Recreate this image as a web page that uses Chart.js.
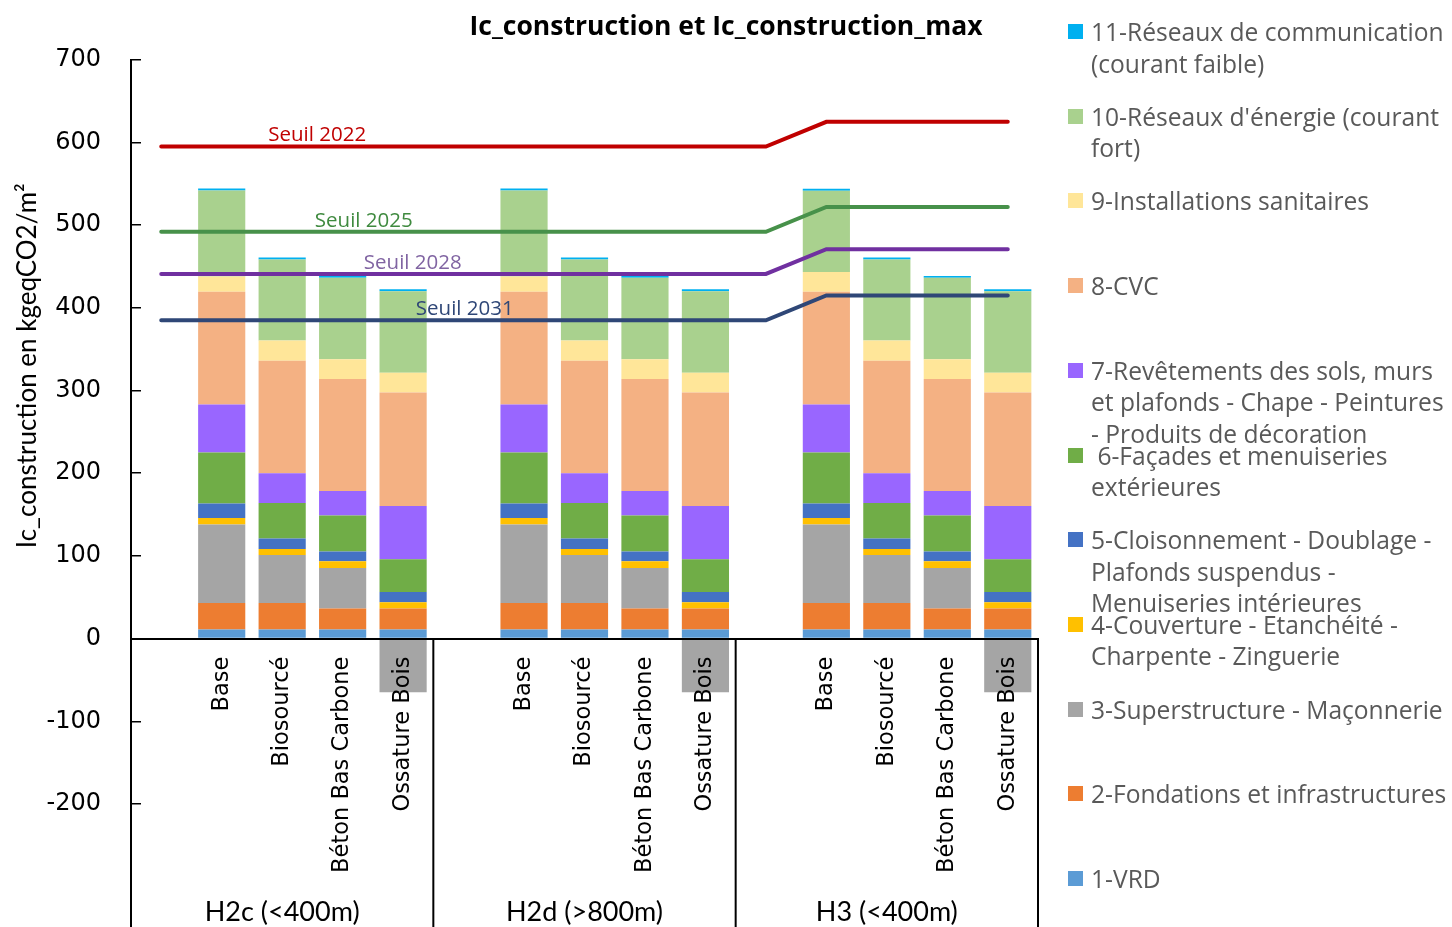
<!DOCTYPE html>
<html lang="fr">
<head>
<meta charset="UTF-8">
<title>Ic_construction et Ic_construction_max</title>
<script src="https://cdn.jsdelivr.net/npm/chart.js"></script>
<style>
    body { margin: 0; background: #fff; overflow: hidden; }
    #zone { position: relative; width: 1452px; height: 927px; }
    #legende { position: absolute; left: 1068px; top: 0; font-family: "Open Sans", sans-serif; font-size: 24.6px; color: #595959; }
    .item { position: absolute; left: 0; width: 384px; line-height: 31.5px; }
    .carre { position: absolute; left: 0; top: 8px; width: 15px; height: 15px; }
    .texte { position: absolute; left: 23px; white-space: pre; }
</style>
</head>
<body>
<div id="zone">
    <canvas id="graphique" width="1452" height="927"></canvas>
    <div id="legende"></div>
</div>
<script>
    // catégories
    const groupes = ['H2c (<400m)', 'H2d (>800m)', 'H3 (<400m)'];
    const variantes = ['Base', 'Biosourcé', 'Béton Bas Carbone', 'Ossature Bois'];

    // lots (libellés de la légende, coupés comme dans l'original)
    const lots = [
        ['1-VRD'],
        ['2-Fondations et infrastructures'],
        ['3-Superstructure - Maçonnerie'],
        ['4-Couverture - Etanchéité -', 'Charpente - Zinguerie'],
        ['5-Cloisonnement - Doublage -', 'Plafonds suspendus -', 'Menuiseries intérieures'],
        [' 6-Façades et menuiseries', 'extérieures'],
        ['7-Revêtements des sols, murs', 'et plafonds - Chape - Peintures', '- Produits de décoration'],
        ['8-CVC'],
        ['9-Installations sanitaires'],
        ["10-Réseaux d'énergie (courant", 'fort)'],
        ['11-Réseaux de communication', '(courant faible)']
    ];
    const couleurs = ['#5B9BD5', '#ED7D31', '#A5A5A5', '#FFC000', '#4472C4', '#70AD47',
                      '#9966FF', '#F4B183', '#FFE699', '#A9D18E', '#00B0F0'];

    // valeurs kgeqCO2/m² : Base, Biosourcé, Béton Bas Carbone, Ossature Bois pour chaque zone
    const lot1  = [11, 11, 11, 11,         11, 11, 11, 11,         11, 11, 11, 11];
    const lot2  = [32, 32, 25.5, 25.5,     32, 32, 25.5, 25.5,     32, 32, 25.5, 25.5];
    const lot3  = [95, 58, 49, -65,        95, 58, 49, -65,        95, 58, 49, -65];
    const lot4  = [8, 7.5, 8, 7.5,         8, 7.5, 8, 7.5,         8, 7.5, 8, 7.5];
    const lot5  = [17.5, 12.5, 12, 12.5,   17.5, 12.5, 12, 12.5,   17.5, 12.5, 12, 12.5];
    const lot6  = [61.5, 43, 43.5, 39.5,   61.5, 43, 43.5, 39.5,   61.5, 43, 43.5, 39.5];
    const lot7  = [58, 36, 29.5, 64.5,     58, 36, 29.5, 64.5,     58, 36, 29.5, 64.5];
    const lot8  = [136.5, 136, 135.5, 137, 136.5, 136, 135.5, 137, 136.5, 136, 135.5, 137];
    const lot9  = [18.5, 24.5, 24, 24,     18.5, 24.5, 24, 24,     24, 24.5, 24, 24];
    const lot10 = [104, 98, 98.5, 98.5,    104, 98, 98.5, 98.5,    98, 98, 98.5, 98.5];
    const lot11 = [2.5, 2.5, 2, 2.5,       2.5, 2.5, 2, 2.5,       2.5, 2.5, 2, 2.5];
    const valeursLots = [lot1, lot2, lot3, lot4, lot5, lot6, lot7, lot8, lot9, lot10, lot11];

    // seuils, un point par emplacement de l'axe (vide + 4 variantes par zone)
    const seuil2022 = [595, 595, 595, 595, 595, 595, 595, 595, 595, 595, 595, 625, 625, 625, 625];
    const seuil2025 = [492, 492, 492, 492, 492, 492, 492, 492, 492, 492, 492, 522, 522, 522, 522];
    const seuil2028 = [441, 441, 441, 441, 441, 441, 441, 441, 441, 441, 441, 471, 471, 471, 471];
    const seuil2031 = [385, 385, 385, 385, 385, 385, 385, 385, 385, 385, 385, 415, 415, 415, 415];

    // axe : un emplacement vide avant chaque zone
    const emplacements = [];
    groupes.forEach(() => {
        emplacements.push('');
        variantes.forEach(v => emplacements.push(v));
    });

    function versEmplacements(valeurs) {
        const res = [];
        groupes.forEach((g, k) => {
            res.push(null);
            for (let j = 0; j < variantes.length; j++) res.push(valeurs[k * variantes.length + j]);
        });
        return res;
    }

    const seuils = [
        { label: 'Seuil 2022', data: seuil2022, couleur: '#C00000', texte: '#C00000', pos: 2.58 },
        { label: 'Seuil 2025', data: seuil2025, couleur: '#47914A', texte: '#3F8A3F', pos: 3.35 },
        { label: 'Seuil 2028', data: seuil2028, couleur: '#7030A0', texte: '#8064A2', pos: 4.16 },
        { label: 'Seuil 2031', data: seuil2031, couleur: '#2F4777', texte: '#2F4777', pos: 5.02 }
    ];

    const datasets = [];
    seuils.forEach((s, i) => {
        datasets.push({
            type: 'line',
            label: s.label,
            data: s.data,
            borderColor: s.couleur,
            borderWidth: 4,
            borderCapStyle: 'round',
            pointRadius: 0,
            fill: false,
            tension: 0,
            stack: 'seuil' + i,
            yAxisID: 'y',
            order: 0
        });
    });
    valeursLots.forEach((v, i) => {
        datasets.push({
            type: 'bar',
            label: lots[i].join(' '),
            data: versEmplacements(v),
            backgroundColor: couleurs[i],
            barPercentage: 0.78,
            categoryPercentage: 1,
            stack: 'lots',
            yAxisID: 'y',
            order: 1
        });
    });

    // textes hors données : titre d'axe, zones, séparateurs, étiquettes des seuils
    const decor = {
        id: 'decor',
        afterDatasetsDraw(chart) {
            const ctx = chart.ctx;
            const x = chart.scales.x;
            const y = chart.scales.y;
            ctx.save();
            ctx.textAlign = 'center';
            ctx.textBaseline = 'middle';
            ctx.font = '20.5px "Open Sans"';
            seuils.forEach(s => {
                ctx.fillStyle = s.texte;
                ctx.fillText(s.label, x.getPixelForValue(s.pos), y.getPixelForValue(s.data[0]) - 11);
            });
            ctx.restore();
        },
        afterDraw(chart) {
            const ctx = chart.ctx;
            const x = chart.scales.x;
            const y = chart.scales.y;
            const y0 = y.getPixelForValue(0);
            const pas = variantes.length + 1;
            ctx.save();
            ctx.strokeStyle = '#000';
            ctx.lineWidth = 2;
            for (let k = 0; k <= groupes.length; k++) {
                const px = x.getPixelForValue(k * pas - 0.5);
                ctx.beginPath();
                ctx.moveTo(px, y0);
                ctx.lineTo(px, chart.height);
                ctx.stroke();
            }
            ctx.fillStyle = '#000';
            ctx.textAlign = 'center';
            ctx.textBaseline = 'middle';
            ctx.font = '27px Lato';
            groupes.forEach((g, k) => {
                ctx.fillText(g, x.getPixelForValue(k * pas + 2), chart.height - 15);
            });
            ctx.translate(28, y.getPixelForValue(330));
            ctx.rotate(-Math.PI / 2);
            ctx.font = '26px Lato';
            ctx.fillText('Ic_construction en kgeqCO2/m²', 0, 0);
            ctx.restore();
        }
    };

    const graphique = new Chart(document.getElementById('graphique').getContext('2d'), {
        type: 'bar',
        data: {
            labels: emplacements,
            datasets: datasets
        },
        options: {
            responsive: false,
            animation: false,
            devicePixelRatio: 1,
            layout: { padding: { left: 0, right: 0, top: 0, bottom: 123 } },
            plugins: {
                legend: { display: false },
                tooltip: { enabled: false },
                title: {
                    display: true,
                    text: 'Ic_construction et Ic_construction_max',
                    color: '#000',
                    font: { family: 'Open Sans', size: 26.5, weight: 'bold' },
                    padding: { top: 12, bottom: 16 }
                }
            },
            scales: {
                x: {
                    type: 'category',
                    position: { y: 0 },
                    stacked: true,
                    grid: { display: false, drawTicks: false, tickLength: 0 },
                    border: { display: true, color: '#000', width: 2, z: 1 },
                    ticks: {
                        autoSkip: false,
                        minRotation: 90,
                        maxRotation: 90,
                        padding: 18,
                        color: '#000',
                        z: 1,
                        font: { family: 'DejaVu Sans', size: 22.5 }
                    },
                    afterFit: function (s) { s.height = 0; }
                },
                y: {
                    type: 'linear',
                    position: 'left',
                    stacked: true,
                    min: -200,
                    max: 700,
                    ticks: {
                        stepSize: 100,
                        padding: 40,
                        color: '#000',
                        font: { family: 'DejaVu Sans', size: 24 }
                    },
                    grid: { drawOnChartArea: false, drawTicks: true, tickLength: -10, color: '#000', lineWidth: 1.5 },
                    border: { color: '#000', width: 2 },
                    afterFit: function (s) { s.width = 131; }
                },
                droite: {
                    type: 'linear',
                    position: 'right',
                    grid: { display: false },
                    border: { display: false },
                    ticks: { display: false },
                    afterFit: function (s) { s.width = 414; }
                }
            }
        },
        plugins: [decor]
    });

    // légende à droite, ordre inverse (11 en haut)
    const legende = document.getElementById('legende');
    for (let i = lots.length - 1; i >= 0; i--) {
        const rang = lots.length - 1 - i;
        const item = document.createElement('div');
        item.className = 'item';
        item.style.top = (16 + rang * 84.7) + 'px';
        item.innerHTML = '<span class="carre" style="background:' + couleurs[i] + '"></span>' +
                         '<span class="texte">' + lots[i].join('<br>') + '</span>';
        legende.appendChild(item);
    }
</script>
</body>
</html>
